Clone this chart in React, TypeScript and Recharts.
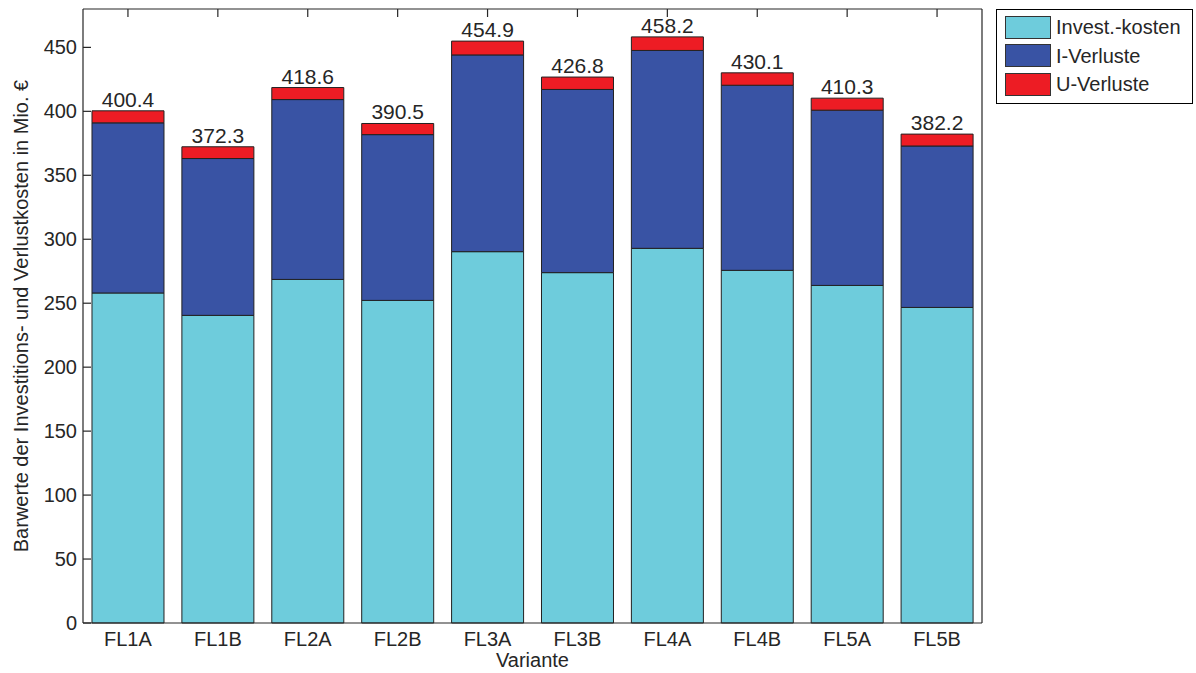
import { BarChart, Bar, XAxis, YAxis, Legend, LabelList, Label } from 'recharts'

const categories = ['FL1A', 'FL1B', 'FL2A', 'FL2B', 'FL3A', 'FL3B', 'FL4A', 'FL4B', 'FL5A', 'FL5B']
const investKosten = [258.0, 240.5, 268.6, 252.2, 290.3, 273.9, 292.9, 275.7, 263.9, 246.7]
const iVerluste = [133.0, 122.6, 140.6, 129.6, 153.8, 143.2, 154.7, 144.7, 137.0, 126.2]
const uVerluste = [9.4, 9.2, 9.4, 8.7, 10.8, 9.7, 10.6, 9.7, 9.4, 9.3]
const totals = [400.4, 372.3, 418.6, 390.5, 454.9, 426.8, 458.2, 430.1, 410.3, 382.2]
const yTicks = [0, 50, 100, 150, 200, 250, 300, 350, 400, 450]

const series = [
  { key: 'invest', name: 'Invest.-kosten', color: '#6ECCDC' },
  { key: 'iv', name: 'I-Verluste', color: '#3953A4' },
  { key: 'uv', name: 'U-Verluste', color: '#ED1C24' },
]

const data = categories.map((name, i) => ({
  name,
  invest: investKosten[i],
  iv: iVerluste[i],
  uv: uVerluste[i],
  total: totals[i].toFixed(1),
}))

const TEXT = '#262626'
const AXIS = '#262626'

// MATLAB-style ticks point into the plot box
const LeftTick = ({ x, y, payload }: any) => (
  <g>
    <line x1={x + 6} x2={x + 14} y1={y} y2={y} stroke={AXIS} strokeWidth={1.2} />
    <text x={x} y={y} dy={7} textAnchor="end" fontSize={20} fill={TEXT}>{payload.value}</text>
  </g>
)

const RightTick = ({ x, y }: any) => (
  <line x1={x - 9} x2={x} y1={y} y2={y} stroke={AXIS} strokeWidth={1.2} />
)

const TopTick = ({ x, y }: any) => (
  <line x1={x} x2={x} y1={y} y2={y + 8} stroke={AXIS} strokeWidth={1.2} />
)

const LegendBox = () => (
  <div style={{ border: '1px solid #000', background: '#fff', padding: '3px 8px 4px 8px', width: 179 }}>
    {series.map(s => (
      <div key={s.key} style={{ display: 'flex', alignItems: 'center', height: 28.5 }}>
        <span style={{ width: 44, height: 21, background: s.color, border: '1px solid #333', display: 'inline-block' }} />
        <span style={{ marginLeft: 5, fontSize: 20, color: TEXT, lineHeight: '20px' }}>{s.name}</span>
      </div>
    ))}
  </div>
)

export default function App() {
  return (
    <div style={{ position: 'absolute', left: 0, top: 0, fontFamily: '"Liberation Sans", Arial, sans-serif' }}>
      <BarChart
        width={1196}
        height={673}
        data={data}
        margin={{ top: 8, right: 213, left: 8, bottom: 0 }}
        barCategoryGap="10%"
      >
        <XAxis
          dataKey="name"
          height={50}
          tick={{ fontSize: 20, fill: TEXT }}
          tickLine={false}
          tickSize={0}
          tickMargin={9}
          axisLine={{ stroke: AXIS, strokeWidth: 1.2 }}
          interval={0}
        >
          <Label value="Variante" position="insideBottom" offset={6} style={{ fontSize: 20, fill: TEXT }} />
        </XAxis>
        <XAxis
          xAxisId="top"
          orientation="top"
          dataKey="name"
          height={1}
          tick={<TopTick />}
          tickLine={false}
          tickSize={0}
          tickMargin={0}
          axisLine={{ stroke: AXIS, strokeWidth: 1.2 }}
          interval={0}
        />
        <YAxis
          width={75}
          domain={[0, 480]}
          ticks={yTicks}
          tick={<LeftTick />}
          tickLine={false}
          tickSize={0}
          tickMargin={6}
          axisLine={{ stroke: AXIS, strokeWidth: 1.2 }}
        >
          <Label
            value="Barwerte der Investitions- und Verlustkosten in Mio. €"
            angle={-90}
            position="center"
            dx={-25}
            style={{ fontSize: 20, fill: TEXT, textAnchor: 'middle' }}
          />
        </YAxis>
        <YAxis
          yAxisId="right"
          orientation="right"
          width={1}
          domain={[0, 480]}
          ticks={yTicks}
          tick={<RightTick />}
          tickLine={false}
          tickSize={0}
          tickMargin={0}
          axisLine={{ stroke: AXIS, strokeWidth: 1.2 }}
        />
        <Legend
          layout="vertical"
          align="center"
          verticalAlign="middle"
          content={<LegendBox />}
          wrapperStyle={{ top: 9, left: 996, width: 'auto', height: 'auto' }}
        />
        {series.map(s => (
          <Bar
            key={s.key}
            dataKey={s.key}
            name={s.name}
            stackId="a"
            fill={s.color}
            stroke="#222"
            strokeWidth={1}
            isAnimationActive={false}
          >
            {s.key === 'uv' && (
              <LabelList dataKey="total" position="top" offset={4} style={{ fontSize: 21, fill: TEXT }} />
            )}
          </Bar>
        ))}
      </BarChart>
    </div>
  )
}
